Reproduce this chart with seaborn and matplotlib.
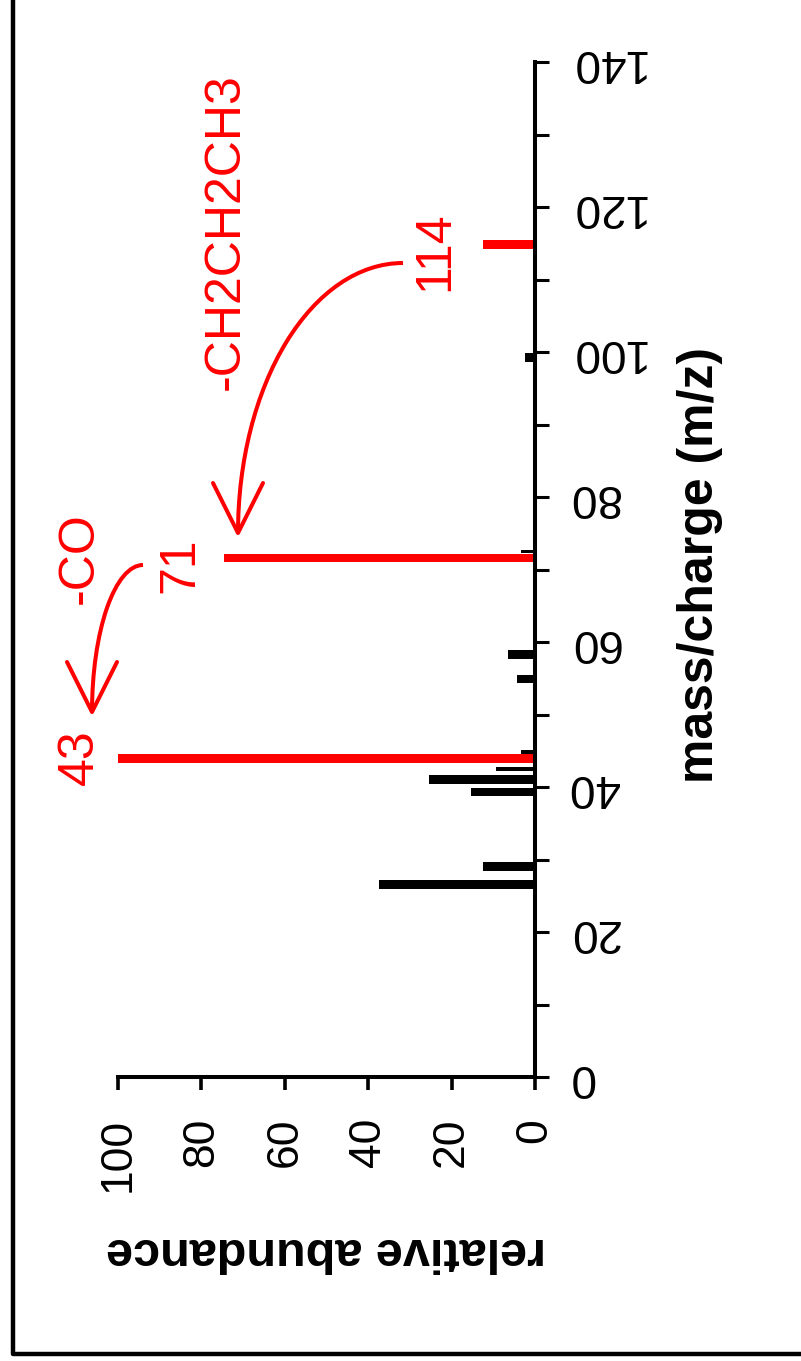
import matplotlib
matplotlib.use("Agg")
import matplotlib.pyplot as plt
import matplotlib.transforms as mtransforms
from matplotlib.patches import Arc
from matplotlib.lines import Line2D
import seaborn as sns

# peaks: m/z, relative abundance
mz = [26.6, 29.0, 39.3, 41.0, 42.5, 43.9, 44.8, 54.9, 58.3, 71.6, 72.5, 99.2, 114.8]
abundance = [37.4, 12.5, 15.3, 25.4, 9.4, 100, 3.4, 4.3, 6.5, 74.6, 3.4, 2.4, 12.5]
highlighted = [False, False, False, False, False, True, False, False, False, True, False, False, True]
thin = [False, False, False, False, True, False, True, False, False, False, True, False, False]

mz_ticks = list(range(0, 141, 10))
mz_ticklabels = [str(v) if v % 20 == 0 else "" for v in mz_ticks]
ab_ticks = [0, 20, 40, 60, 80, 100]

peak_labels = ["43", "71", "114"]
loss_labels = ["-CO", "-CH2CH2CH3"]

RED = "#ff0000"

sns.set_theme(style="white")
plt.rcParams["font.family"] = ["Liberation Sans", "DejaVu Sans"]

W, H = 801, 1361
fig = plt.figure(figsize=(W / 100, H / 100), dpi=100)
ax = fig.add_axes([118 / W, 1 - 1077 / H, 417 / W, 1015 / H])

# one bar at a time so each gets its own thickness (native width = 1 m/z unit)
for m, a, hl, th in zip(mz, abundance, highlighted, thin):
    sns.barplot(x=[a], y=[m], orient="y", native_scale=True,
                width=0.5 if th else 1.2, color=RED if hl else "black",
                saturation=1, linewidth=0, errorbar=None, ax=ax)

ax.set_xlim(100, 0)
ax.set_ylim(0, 140)

for s in ["left", "top"]:
    ax.spines[s].set_visible(False)
for s in ["right", "bottom"]:
    ax.spines[s].set_visible(True)
    ax.spines[s].set_color("black")
    ax.spines[s].set_linewidth(2.9)

ax.yaxis.tick_right()
ax.set_yticks(mz_ticks)
ax.set_yticklabels(mz_ticklabels)
ax.set_xticks(ab_ticks)
ax.set_xticklabels([str(v) for v in ab_ticks])
ax.tick_params(axis="y", right=True, left=False, labelright=True, labelleft=False,
               direction="out", length=10, width=2.2, pad=14, labelsize=33, colors="black")
ax.tick_params(axis="x", bottom=True, direction="out", length=9.5, width=2.6,
               pad=20, labelsize=32, colors="black")
plt.setp(ax.get_yticklabels(), rotation=180, va="center", ha="left")
plt.setp(ax.get_xticklabels(), rotation=90, va="top", ha="center")

ax.set_ylabel("mass/charge (m/z)", fontsize=36, fontweight="bold", color="black")
ax.yaxis.set_label_position("right")
ax.yaxis.label.set_rotation(90)
ax.yaxis.label.set_va("center")
ax.yaxis.label.set_ha("center")
ax.yaxis.set_label_coords((700 - 118) / 417, (1077 - 565) / 1015)

ax.set_xlabel("relative abundance", fontsize=35, fontweight="bold", color="black")
ax.xaxis.label.set_rotation(180)
ax.xaxis.label.set_va("center")
ax.xaxis.set_label_coords((326 - 118) / 417, (1077 - 1250) / 1015)

# annotations placed in picture pixels (origin top-left)
px = mtransforms.Affine2D().scale(1 / W, -1 / H).translate(0, 1) + fig.transFigure

txt = dict(transform=px, color=RED, fontsize=36, rotation=90, ha="center", va="center")
fig.text(80, 757, peak_labels[0], **txt)
fig.text(180, 565, peak_labels[1], **txt)
fig.text(435, 251, peak_labels[2], **txt)
fig.text(80, 558, loss_labels[0], **txt)
fig.text(226, 232, loss_labels[1], **txt)

# curved arrows: quarter ellipses ending in an open V head
for cx, cy, rx, ry in [(403, 533, 165, 270), (143, 712, 51, 147)]:
    fig.add_artist(Arc((cx, cy), 2 * rx, 2 * ry, theta1=180, theta2=270,
                       transform=px, color=RED, lw=2.9))
    tx, ty = cx - rx, cy
    fig.add_artist(Line2D([tx - 25, tx, tx + 25], [ty - 50, ty, ty - 50],
                          transform=px, color=RED, lw=2.9))

# outer frame (left and bottom edges visible)
fig.add_artist(Line2D([13, 13, W + 5], [-5, 1354, 1354], transform=px,
                      color="black", lw=3.2))

fig.savefig("out.png", dpi=100)
